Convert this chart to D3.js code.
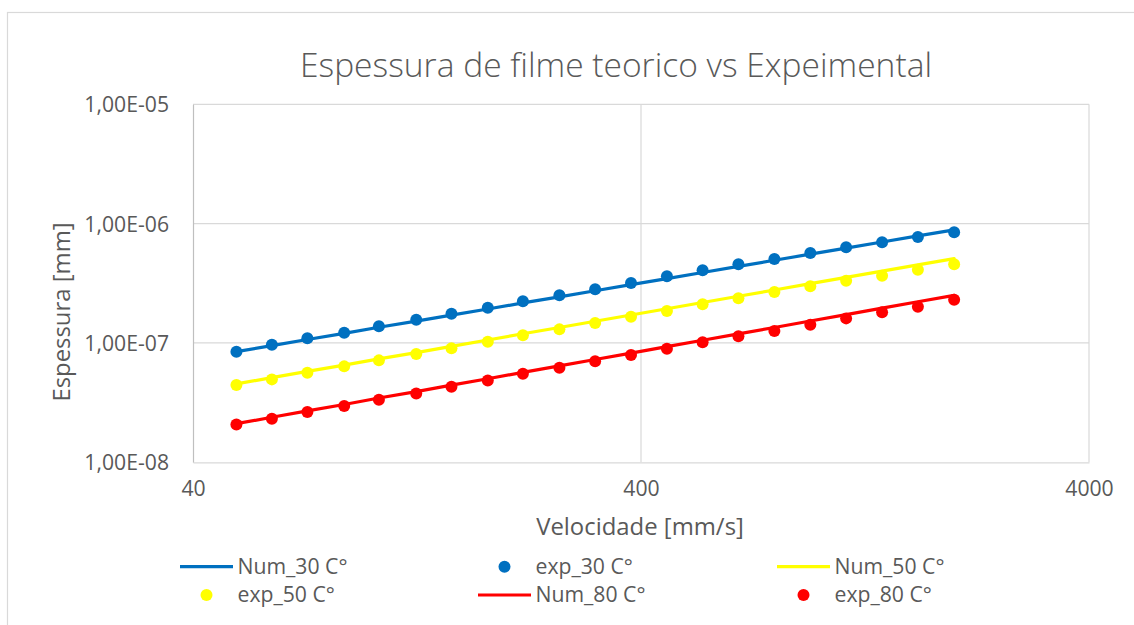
<!DOCTYPE html>
<html>
<head>
<meta charset="utf-8">
<script src="https://cdn.jsdelivr.net/npm/d3@7"></script>
<style>
  html, body { margin: 0; padding: 0; background: #ffffff; }
  svg { display: block; font-family: "Open Sans", "DejaVu Sans", sans-serif; }
</style>
</head>
<body>
<svg id="chart" width="1134" height="625"></svg>
<script>
// Velocity (mm/s) at which each film thickness was evaluated / measured
const velocity = [50, 60, 72, 87, 104, 126, 151, 182, 218, 263, 316, 380, 457, 549, 660, 794, 955, 1148, 1381, 1660, 2000];

// Film thickness (mm) — numerical model
const num30 = [8.46e-8, 9.51e-8, 1.069e-7, 1.203e-7, 1.353e-7, 1.522e-7, 1.711e-7, 1.925e-7, 2.165e-7, 2.435e-7, 2.739e-7, 3.080e-7, 3.465e-7, 3.897e-7, 4.383e-7, 4.930e-7, 5.545e-7, 6.236e-7, 7.015e-7, 7.889e-7, 8.873e-7];
const num50 = [4.541e-8, 5.124e-8, 5.781e-8, 6.525e-8, 7.363e-8, 8.308e-8, 9.376e-8, 1.058e-7, 1.194e-7, 1.347e-7, 1.520e-7, 1.715e-7, 1.935e-7, 2.184e-7, 2.465e-7, 2.781e-7, 3.138e-7, 3.541e-7, 3.997e-7, 4.509e-7, 5.088e-7];
const num80 = [2.107e-8, 2.384e-8, 2.698e-8, 3.053e-8, 3.456e-8, 3.912e-8, 4.427e-8, 5.012e-8, 5.672e-8, 6.420e-8, 7.265e-8, 8.223e-8, 9.307e-8, 1.053e-7, 1.192e-7, 1.349e-7, 1.527e-7, 1.728e-7, 1.956e-7, 2.214e-7, 2.506e-7];

// Film thickness (mm) — experimental
const exp30 = [8.46e-8, 9.68e-8, 1.093e-7, 1.220e-7, 1.378e-7, 1.567e-7, 1.760e-7, 1.976e-7, 2.233e-7, 2.506e-7, 2.813e-7, 3.177e-7, 3.616e-7, 4.061e-7, 4.558e-7, 5.050e-7, 5.669e-7, 6.329e-7, 6.970e-7, 7.721e-7, 8.454e-7];
const exp50 = [4.437e-8, 4.953e-8, 5.636e-8, 6.366e-8, 7.147e-8, 8.072e-8, 9.010e-8, 1.025e-7, 1.158e-7, 1.300e-7, 1.468e-7, 1.661e-7, 1.851e-7, 2.106e-7, 2.365e-7, 2.671e-7, 2.981e-7, 3.327e-7, 3.665e-7, 4.100e-7, 4.558e-7];
const exp80 = [2.078e-8, 2.319e-8, 2.635e-8, 2.959e-8, 3.347e-8, 3.780e-8, 4.301e-8, 4.857e-8, 5.528e-8, 6.209e-8, 7.012e-8, 7.917e-8, 8.955e-8, 1.012e-7, 1.136e-7, 1.258e-7, 1.423e-7, 1.607e-7, 1.805e-7, 2.015e-7, 2.298e-7];

// Axis ticks
const xTickValues = [40, 400, 4000];
const xTickLabels = ["40", "400", "4000"];
const yTickValues = [1e-8, 1e-7, 1e-6, 1e-5];
const yTickLabels = ["1,00E-08", "1,00E-07", "1,00E-06", "1,00E-05"];

// Series, in drawing / legend order
const seriesNames = ["Num_30 C°", "exp_30 C°", "Num_50 C°", "exp_50 C°", "Num_80 C°", "exp_80 C°"];
const seriesValues = [num30, exp30, num50, exp50, num80, exp80];
const seriesKinds = ["line", "marker", "line", "marker", "line", "marker"];
const seriesColors = ["#0070C0", "#0070C0", "#FFFF00", "#FFFF00", "#FF0000", "#FF0000"];

const titleText = "Espessura de filme teorico vs Expeimental";
const xTitleText = "Velocidade [mm/s]";
const yTitleText = "Espessura [mm]";

// ---------------------------------------------------------------
const svg = d3.select("#chart");
const plot = { left: 193, right: 1089, top: 104.3, bottom: 462.3 };
const textColor = "#595959";

const x = d3.scaleLog().domain([40, 4000]).range([plot.left, plot.right]);
const y = d3.scaleLog().domain([1e-8, 1e-5]).range([plot.bottom, plot.top]);

// chart frame
svg.append("rect")
  .attr("x", 7.5).attr("y", 12.5)
  .attr("width", 1200).attr("height", 700)
  .attr("fill", "#ffffff")
  .attr("stroke", "#d9d9d9").attr("stroke-width", 1.2);

// title
svg.append("text")
  .attr("x", 616).attr("y", 76.5)
  .attr("text-anchor", "middle")
  .attr("font-size", 33)
  .attr("font-weight", 300)
  .attr("textLength", 632)
  .attr("lengthAdjust", "spacingAndGlyphs")
  .attr("fill", textColor)
  .text(titleText);

// gridlines
const grid = svg.append("g");
grid.selectAll("line.h")
  .data(yTickValues.slice(1))
  .join("line")
  .attr("x1", plot.left).attr("x2", plot.right)
  .attr("y1", d => y(d)).attr("y2", d => y(d))
  .attr("stroke", "#d9d9d9").attr("stroke-width", 1.2);
grid.selectAll("line.v")
  .data(xTickValues.slice(1))
  .join("line")
  .attr("x1", d => x(d)).attr("x2", d => x(d))
  .attr("y1", plot.top).attr("y2", plot.bottom)
  .attr("stroke", "#d9d9d9").attr("stroke-width", 1.2);

// axes
const yAxis = d3.axisLeft(y)
  .tickValues(yTickValues)
  .tickFormat((d, i) => yTickLabels[i])
  .tickSize(0).tickPadding(24);
const gy = svg.append("g").attr("transform", `translate(${plot.left},0)`).call(yAxis);
gy.select(".domain").attr("stroke", "#bfbfbf").attr("stroke-width", 1.2);
gy.selectAll("text")
  .attr("font-size", 21.2).attr("fill", textColor)
  .attr("font-family", "'Open Sans', sans-serif")
  .attr("dy", "0.35em");

const xAxis = d3.axisBottom(x)
  .tickValues(xTickValues)
  .tickFormat((d, i) => xTickLabels[i])
  .tickSize(0).tickPadding(19);
const gx = svg.append("g").attr("transform", `translate(0,${plot.bottom})`).call(xAxis);
gx.select(".domain").attr("stroke", "#d9d9d9").attr("stroke-width", 1.2);
gx.selectAll("text")
  .attr("font-size", 21.2).attr("fill", textColor)
  .attr("font-family", "'Open Sans', sans-serif");

// axis titles
svg.append("text")
  .attr("x", 640).attr("y", 535)
  .attr("text-anchor", "middle")
  .attr("font-size", 23.9)
  .attr("fill", textColor)
  .text(xTitleText);
svg.append("text")
  .attr("transform", "translate(70,312) rotate(-90)")
  .attr("text-anchor", "middle")
  .attr("font-size", 23.9)
  .attr("fill", textColor)
  .text(yTitleText);

// series
const lineGen = d3.line()
  .x((d, i) => x(velocity[i]))
  .y(d => y(d));
const seriesLayer = svg.append("g");
seriesNames.forEach((name, s) => {
  const vals = seriesValues[s];
  if (seriesKinds[s] === "line") {
    seriesLayer.append("path")
      .datum(vals)
      .attr("d", lineGen)
      .attr("fill", "none")
      .attr("stroke", seriesColors[s])
      .attr("stroke-width", 3.2)
      .attr("stroke-linejoin", "round")
      .attr("stroke-linecap", "round");
  } else {
    seriesLayer.append("g")
      .selectAll("circle")
      .data(vals)
      .join("circle")
      .attr("cx", (d, i) => x(velocity[i]))
      .attr("cy", d => y(d))
      .attr("r", 6)
      .attr("fill", seriesColors[s]);
  }
});

// legend: three columns, two rows
const legendCols = [180, 478, 777];
const legendRows = [566.7, 595];
const legend = svg.append("g");
seriesNames.forEach((name, s) => {
  const cx = legendCols[s % 3];
  const cy = legendRows[Math.floor(s / 3)];
  const g = legend.append("g");
  if (seriesKinds[s] === "line") {
    g.append("line")
      .attr("x1", cx).attr("x2", cx + 53)
      .attr("y1", cy).attr("y2", cy)
      .attr("stroke", seriesColors[s]).attr("stroke-width", 3.2);
  } else {
    g.append("circle")
      .attr("cx", cx + 26.5).attr("cy", cy)
      .attr("r", 6)
      .attr("fill", seriesColors[s]);
  }
  g.append("text")
    .attr("x", cx + 57.5).attr("y", cy)
    .attr("dy", "0.35em")
    .attr("font-size", 21.2)
    .attr("fill", textColor)
    .text(name);
});
</script>
</body>
</html>
